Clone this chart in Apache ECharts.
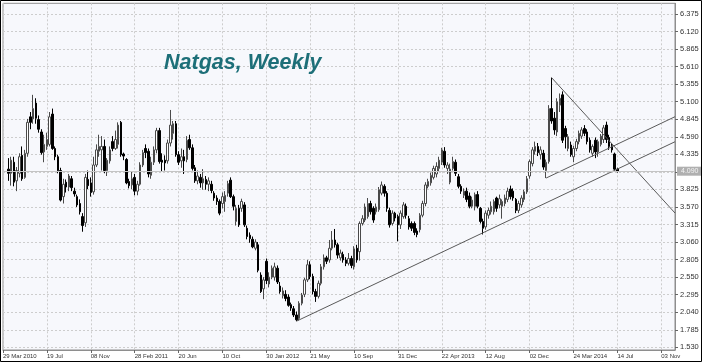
<!DOCTYPE html>
<html>
<head>
<meta charset="utf-8">
<script src="https://cdn.jsdelivr.net/npm/echarts@6/dist/echarts.min.js"></script>
<style>
html,body{margin:0;padding:0;background:#fff;}
#c{width:702px;height:362px;}
</style>
</head>
<body>
<div id="c"></div>
<script>
// Weekly candles, first candle = week of 12 Apr 2010 (axis week index 2), last = 14 Jul 2014
const opens = [4.12,4.06,4.22,3.95,4.06,4.32,4.00,4.35,4.88,4.85,5.08,4.84,4.66,4.37,4.45,4.48,4.92,4.42,4.30,4.10,
3.72,3.93,3.86,3.98,3.80,3.72,3.62,3.43,3.34,3.97,3.92,3.79,4.18,4.38,4.40,4.45,4.10,4.24,4.52,4.42,
4.48,4.80,4.34,4.26,3.94,3.89,4.00,3.80,3.90,4.18,4.42,4.38,4.03,4.22,4.40,4.68,4.25,4.25,4.24,4.50,
4.64,4.78,4.33,4.24,4.30,4.26,4.55,4.43,4.14,3.95,4.00,3.92,3.97,3.90,3.90,3.77,3.70,3.65,3.62,3.65,
3.77,3.96,3.72,3.36,3.55,3.55,3.60,3.26,3.16,3.10,2.97,3.02,2.58,2.38,2.78,2.45,2.55,2.55,2.68,2.42,
2.28,2.30,2.26,2.15,2.09,2.00,1.95,2.17,2.30,2.51,2.73,2.56,2.34,2.27,2.46,2.70,2.83,2.80,2.97,3.09,
3.02,2.83,2.88,2.80,2.75,2.82,2.70,2.97,2.92,3.33,3.38,3.43,3.62,3.55,3.50,3.53,3.77,3.87,3.77,3.52,
3.33,3.48,3.43,3.31,3.43,3.58,3.40,3.33,3.33,3.22,3.24,3.45,3.62,3.87,3.92,4.00,4.05,4.13,4.22,4.38,
4.13,3.93,4.13,4.22,4.01,3.87,3.74,3.80,3.73,3.58,3.58,3.75,3.55,3.36,3.28,3.45,3.50,3.50,3.70,3.60,
3.58,3.62,3.68,3.83,3.80,3.68,3.52,3.60,3.68,3.79,4.02,4.20,4.38,4.45,4.33,4.35,4.10,4.23,5.00,4.86,
4.66,5.05,5.20,4.71,4.42,4.47,4.30,4.42,4.52,4.60,4.71,4.66,4.54,4.35,4.54,4.37,4.48,4.55,4.76,4.58,
4.46,4.34,4.12];
const closes = [4.06,4.25,3.93,4.10,4.30,3.98,4.35,4.80,4.80,5.00,4.86,4.70,4.36,4.48,4.55,4.88,4.42,4.30,4.10,3.67,
3.90,3.86,4.02,3.85,3.76,3.60,3.50,3.30,4.00,3.88,3.78,4.18,4.40,4.45,4.45,4.10,4.25,4.40,4.42,4.55,
4.76,4.33,4.31,3.92,3.88,3.98,3.80,3.90,4.18,4.36,4.36,4.05,4.22,4.40,4.68,4.23,4.22,4.21,4.50,4.76,
4.78,4.33,4.22,4.30,4.24,4.54,4.43,4.13,3.95,4.02,3.92,3.98,3.90,3.95,3.81,3.70,3.65,3.48,3.72,3.74,
3.91,3.72,3.58,3.55,3.31,3.65,3.31,3.14,3.11,2.99,3.06,2.65,2.34,2.51,2.50,2.55,2.68,2.70,2.48,2.34,
2.35,2.24,2.14,2.10,2.00,1.93,2.17,2.29,2.51,2.73,2.56,2.34,2.27,2.46,2.70,2.83,2.78,2.97,3.09,3.02,
2.87,2.90,2.80,2.75,2.82,2.72,2.96,2.80,3.33,3.40,3.57,3.62,3.50,3.38,3.57,3.82,3.89,3.77,3.55,3.31,
3.48,3.41,3.31,3.48,3.60,3.45,3.28,3.26,3.20,3.17,3.45,3.62,3.89,3.94,4.03,4.13,4.16,4.25,4.40,4.18,
4.18,4.12,4.23,4.06,3.87,3.80,3.80,3.68,3.58,3.67,3.75,3.58,3.36,3.26,3.48,3.52,3.58,3.65,3.55,3.69,
3.65,3.70,3.80,3.72,3.70,3.52,3.62,3.70,3.79,3.98,4.23,4.40,4.45,4.36,4.40,4.15,4.22,5.00,4.82,4.69,
5.10,5.15,4.54,4.59,4.59,4.33,4.42,4.52,4.64,4.69,4.64,4.52,4.40,4.45,4.37,4.52,4.60,4.72,4.55,4.45,
4.40,4.12,4.09];
const lows = [3.95,3.88,3.87,3.80,4.00,3.95,3.98,4.30,4.70,4.78,4.78,4.65,4.33,4.22,4.40,4.45,4.40,4.25,4.06,3.65,
3.62,3.78,3.80,3.80,3.72,3.57,3.46,3.21,3.28,3.83,3.72,3.75,4.15,4.30,4.10,4.06,4.02,4.20,4.38,4.40,
4.42,4.30,4.25,3.90,3.84,3.83,3.74,3.74,3.88,4.15,4.28,4.00,3.98,4.18,4.35,4.20,4.08,4.10,4.20,4.45,
4.55,4.30,4.18,4.14,4.05,4.22,4.40,4.10,3.92,3.90,3.85,3.82,3.82,3.80,3.77,3.66,3.60,3.45,3.55,3.50,
3.72,3.70,3.52,3.30,3.28,3.50,3.28,3.10,3.05,2.97,2.94,2.62,2.32,2.23,2.45,2.40,2.52,2.50,2.45,2.31,
2.24,2.20,2.12,2.06,1.97,1.91,1.92,2.14,2.26,2.48,2.52,2.30,2.19,2.24,2.43,2.66,2.74,2.76,2.94,2.98,
2.82,2.79,2.76,2.71,2.72,2.68,2.66,2.76,2.79,3.30,3.35,3.40,3.46,3.34,3.46,3.50,3.74,3.72,3.50,3.27,
3.30,3.36,3.07,3.25,3.40,3.40,3.24,3.22,3.16,3.13,3.20,3.42,3.58,3.84,3.88,3.97,4.00,4.08,4.18,4.14,
4.05,3.90,4.10,4.02,3.84,3.76,3.70,3.64,3.55,3.55,3.52,3.55,3.33,3.17,3.24,3.40,3.46,3.46,3.50,3.55,
3.40,3.58,3.64,3.68,3.66,3.48,3.48,3.56,3.64,3.76,3.98,4.16,4.33,4.31,4.26,4.11,3.99,4.20,4.78,4.62,
4.60,4.95,4.50,4.42,4.38,4.30,4.22,4.38,4.48,4.56,4.60,4.48,4.36,4.30,4.28,4.30,4.45,4.50,4.50,4.40,
4.36,4.10,4.07];
const highs = [4.28,4.30,4.30,4.15,4.35,4.45,4.40,4.85,4.95,5.20,5.15,4.90,4.70,4.62,4.65,4.95,5.00,4.45,4.33,4.14,
3.98,3.97,4.05,4.02,3.85,3.75,3.68,3.48,4.05,4.10,4.00,4.30,4.48,4.62,4.60,4.55,4.28,4.45,4.60,4.68,
4.80,4.82,4.36,4.28,3.98,4.08,4.05,3.95,4.22,4.40,4.48,4.42,4.30,4.45,4.72,4.72,4.35,4.32,4.55,4.98,
4.82,4.82,4.38,4.42,4.40,4.60,4.62,4.48,4.18,4.10,4.05,4.12,4.02,4.00,3.95,3.80,3.74,3.68,3.78,3.80,
3.95,4.00,3.75,3.60,3.60,3.69,3.64,3.30,3.20,3.14,3.10,3.06,2.62,2.55,2.82,2.62,2.72,2.76,2.72,2.48,
2.40,2.36,2.30,2.18,2.13,2.05,2.20,2.32,2.54,2.80,2.78,2.60,2.38,2.50,2.74,2.88,2.86,3.09,3.22,3.25,
3.05,2.95,2.92,2.84,2.90,2.86,3.00,3.02,3.36,3.45,3.62,3.70,3.66,3.58,3.62,3.86,3.94,3.90,3.80,3.56,
3.52,3.50,3.46,3.52,3.64,3.62,3.44,3.36,3.36,3.26,3.48,3.66,3.93,3.98,4.07,4.17,4.22,4.30,4.43,4.44,
4.22,4.20,4.30,4.26,4.05,3.90,3.84,3.85,3.78,3.72,3.78,3.80,3.57,3.40,3.52,3.56,3.65,3.68,3.72,3.75,
3.68,3.75,3.85,3.88,3.84,3.70,3.66,3.74,3.82,4.02,4.26,4.44,4.52,4.50,4.45,4.40,4.26,5.05,5.45,4.95,
5.15,5.22,5.25,4.75,4.63,4.52,4.46,4.56,4.68,4.73,4.76,4.70,4.58,4.48,4.58,4.55,4.63,4.76,4.81,4.62,
4.50,4.36,4.14];
const firstWeekIndex = 2;          // 12 Apr 2010 on the weekly axis that starts 29 Mar 2010
const weekCount = 246;             // 29 Mar 2010 ... Dec 2014
const tickLabels = ['29 Mar 2010','19 Jul','08 Nov','28 Feb 2011','20 Jun','10 Oct','30 Jan 2012','21 May',
  '10 Sep','31 Dec','22 Apr 2013','12 Aug','02 Dec','24 Mar 2014','14 Jul','03 Nov'];
const priceTicks = [1.530,1.785,2.040,2.295,2.550,2.805,3.060,3.315,3.570,3.825,4.080,4.335,4.590,4.845,5.100,5.355,5.610,5.865,6.120,6.375];
const lastPrice = 4.090;
// trend lines: [week index, price]
const supportLine = [[107, 1.91], [245, 4.518]];
const channelLine = [[198, 3.99], [245, 4.882]];
const resistLine = [[200, 5.45], [245, 3.482]];

const categories = [];
for (let k = 0; k < weekCount; k++) categories.push(String(k));
const candles = [];
for (let k = 0; k < weekCount; k++) {
  const i = k - firstWeekIndex;
  if (i >= 0 && i < opens.length) candles.push([opens[i], closes[i], lows[i], highs[i]]);
  else candles.push('-');
}

const chart = echarts.init(document.getElementById('c'), null, {renderer: 'canvas'});
const lineStyle = {color: '#5a5a5a', width: 1};
chart.setOption({
  animation: false,
  backgroundColor: '#ffffff',
  title: {
    text: 'Natgas, Weekly', left: 164, top: 52, padding: 0,
    textStyle: {fontFamily: 'Liberation Sans', fontSize: 21.5, fontStyle: 'italic', fontWeight: 'bold', color: '#1d6f78'}
  },
  grid: {left: -3.5, right: 27, top: 3.3, bottom: 12, show: true, backgroundColor: '#f7f8fc', borderColor: '#8e8e8e', borderWidth: 1},
  xAxis: {
    type: 'category', data: categories, boundaryGap: false,
    axisLine: {show: true, lineStyle: {color: '#8e8e8e'}},
    axisTick: {show: true, interval: 15, length: 3, lineStyle: {color: '#666'}},
    axisLabel: {interval: 15, align: 'left', margin: 3, fontSize: 6, fontFamily: 'Liberation Sans', color: '#333',
      formatter: (v, idx) => tickLabels[idx / 16] || ''},
    splitLine: {show: true, interval: 15, lineStyle: {color: '#cdcdcd', type: [2, 2]}}
  },
  yAxis: {
    type: 'value', position: 'right', min: 1.4908, max: 6.5305, scale: true,
    axisLine: {show: true, lineStyle: {color: '#8e8e8e'}},
    axisTick: {show: true, length: 3, customValues: priceTicks, lineStyle: {color: '#666'}},
    axisLabel: {customValues: priceTicks, margin: 5, fontSize: 7.5, fontFamily: 'Liberation Sans', color: '#333',
      formatter: v => Number(v).toFixed(3)},
    splitLine: {show: true, lineStyle: {color: '#cdcdcd', type: [2, 2]}}
  },
  graphic: [{type: 'rect', shape: {x: 0.5, y: 0.5, width: 701, height: 361}, style: {fill: 'none', stroke: '#000', lineWidth: 1}, z: 100}],
  series: [
    {
      type: 'candlestick', data: candles, barWidth: 2,
      itemStyle: {color: '#ffffff', color0: '#000000', borderColor: '#4a4a4a', borderColor0: '#000000', borderWidth: 1},
      markLine: {
        silent: true, symbol: ['none', 'none'],
        lineStyle: {color: '#c4c4c4', type: 'solid', width: 1},
        label: {show: true, position: 'end', distance: 2, formatter: lastPrice.toFixed(3), fontSize: 7, fontFamily: 'Liberation Sans',
          color: '#f4f4f4', backgroundColor: '#b0b0b0', padding: [1, 4, 1, 4]},
        data: [{yAxis: lastPrice}]
      }
    },
    {type: 'line', data: supportLine, symbol: 'none', lineStyle: lineStyle, silent: true},
    {type: 'line', data: channelLine, symbol: 'none', lineStyle: lineStyle, silent: true},
    {type: 'line', data: resistLine, symbol: 'none', lineStyle: lineStyle, silent: true}
  ]
});
</script>
</body>
</html>
